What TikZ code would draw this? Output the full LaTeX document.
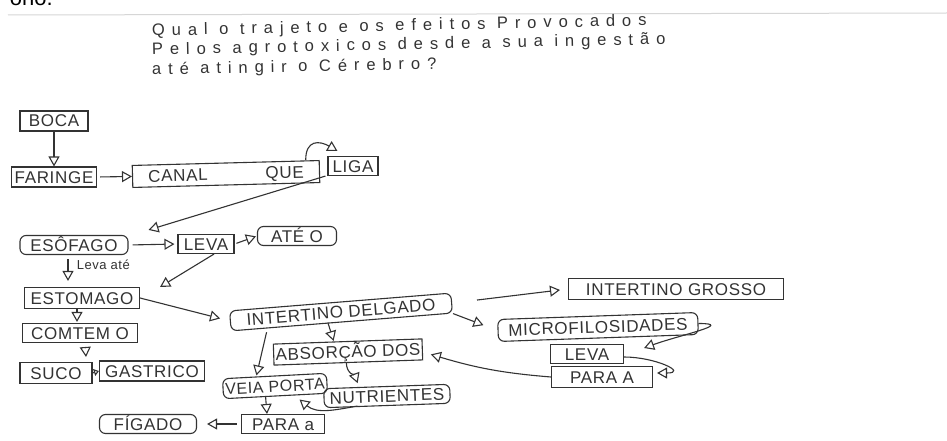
\documentclass[tikz,border=0pt]{standalone}
\usepackage{fontspec}
\setmainfont{Liberation Sans}
\newfontfamily\handfont[LetterSpace=4]{Liberation Sans}
\newfontfamily\notefont[LetterSpace=42]{Liberation Sans}
\usetikzlibrary{arrows.meta, positioning}
\definecolor{ink}{HTML}{333333}
\definecolor{scanline}{HTML}{D6D6D6}

\begin{document}
\begin{tikzpicture}[x=1pt, y=-1pt,
  >={Triangle[open, length=10pt, width=11pt]},
  hbox/.style={draw=ink, line width=1.1pt, text=ink,
    font=\handfont\fontsize{17}{17}\selectfont,
    minimum width=#1, minimum height=20pt, inner xsep=2pt, inner ysep=0pt,
    text height=12pt, text depth=0pt},
  rbox/.style={hbox=#1, rounded corners=6pt},
  arr/.style={->, ink, line width=1.1pt},
  qline/.style={font=\notefont\fontsize{16.5}{16.5}\selectfont, text=ink,
    anchor=base west, rotate=1.2, inner sep=0pt},
]

% Background
\fill[white] (0,0) rectangle (947,441);
\useasboundingbox (0,0) rectangle (947,441);
\draw[scanline, line width=1pt] (8,15) -- (947,13);
\node[font=\fontsize{22}{22}\selectfont, anchor=base east, inner sep=0pt] (ono) at (53,6) {ono.};

% Question
\node[qline] (q1) at (152,36) {Qual o trajeto e os efeitos Provocados};
\node[qline] (q2) at (152,55) {Pelos agrotoxicos desde a sua ingestão};
\node[qline] (q3) at (152,75) {até atingir o Cérebro?};

% === Left column ===
\node[hbox=68pt] (boca) at (54,121) {BOCA};
\node[hbox=85pt] (faringe) at (54,177) {FARINGE};
\node[hbox=187pt, minimum height=22pt, rotate=1.5] (canal) at (226,174) {CANAL\hspace{58pt}QUE};
\node[hbox=50pt, minimum height=19pt] (liga) at (353,166) {LIGA};
\node[rbox=108pt, minimum height=19pt] (esofago) at (74,245) {ESÔFAGO};
\node[hbox=56pt, minimum height=19pt] (leva) at (206,244) {LEVA};
\node[rbox=79pt, minimum height=19pt] (ate) at (297,236) {ATÉ O};
\node[hbox=115pt, minimum height=21pt] (estomago) at (82,298) {ESTOMAGO};
\node[hbox=115pt, minimum height=19pt] (comtem) at (80,333) {COMTEM O};
\node[hbox=72pt, minimum height=21pt] (suco) at (56,373) {SUCO};
\node[hbox=105pt, minimum height=20pt] (gastrico) at (152,371) {GASTRICO};

% === Intestines ===
\node[rbox=222pt, rotate=4.6] (delgado) at (341,312) {INTERTINO DELGADO};
\node[hbox=215pt, minimum height=21pt] (grosso) at (676,289) {INTERTINO GROSSO};
\node[rbox=200pt, minimum height=22pt, rotate=2] (micro) at (598,327) {MICROFILOSIDADES};
\node[hbox=73pt, minimum height=19pt] (levab) at (587,354) {LEVA};
\node[hbox=101pt, minimum height=21pt] (paraA) at (602,377) {PARA A};
\node[hbox=143pt, minimum height=21pt, rotate=2] (absorcao) at (348,352) {ABSORÇÃO DOS};
\node[rbox=126pt, minimum height=19pt, rotate=2] (nutrientes) at (387,396) {NUTRIENTES};
\node[rbox=104pt, minimum height=20pt, rotate=3, font=\handfont\fontsize{16}{16}\selectfont] (veia) at (275,386) {VEIA PORTA};
\node[hbox=83pt, minimum height=19pt] (paraO) at (283,424) {PARA a};
\node[rbox=97pt, minimum height=19pt] (figado) at (148,424) {FÍGADO};

% === Arrows ===
\draw[arr] (boca) -- (faringe);
\draw[arr, shorten <=3pt] (faringe.east) -- (canal.west);
\draw[arr] ([xshift=-14pt]canal.north east) to[out=90, in=150, looseness=1.6]
  ([xshift=10pt, yshift=5pt]liga.north west);
\draw[arr] ([xshift=-2pt]liga.south west) -- ([xshift=20pt, yshift=5pt]esofago.north east);
\draw[arr, shorten <=4pt, shorten >=3pt] (esofago.east) -- (leva.west);
\draw[arr, shorten <=2pt, shorten >=1pt] (leva.east) -- (ate.west);
\draw[arr] ([xshift=8pt]leva.south) -- ([xshift=20pt]estomago.north east);
\draw[arr, shorten <=4pt, shorten >=6pt] ([xshift=-6pt]esofago.south) --
  node[pos=0.3, right=5pt, font=\handfont\fontsize{13}{13}\selectfont, text=ink] (levaate) {Leva até}
  ([xshift=-14pt]estomago.north);
\draw[arr, shorten >=1pt] ([xshift=-5pt]estomago.south) -- ([xshift=-3pt]comtem.north);
\draw[arr, shorten <=5pt] ([xshift=5pt]comtem.south) -- ([xshift=30pt, yshift=5pt]suco.north);
\draw[-{Triangle[open, length=5pt, width=7pt]}, ink, line width=1.1pt] (suco.east) -- (gastrico.west);
\draw[arr, shorten >=10pt] (estomago.east) -- (delgado.west);
\draw[arr, shorten <=25pt, shorten >=8pt] (delgado.east) -- (grosso.west);
\draw[arr, shorten >=15pt] (delgado.south east) -- (micro.west);
\draw[arr] ([xshift=-14pt]delgado.south) -- ([xshift=-14pt]absorcao.north);
\draw[arr, shorten <=10pt] ([xshift=-73pt]delgado.south) -- ([xshift=-18pt]veia.north);
\draw[arr, shorten >=3pt] ([xshift=-2pt]absorcao.south) to[out=-90, in=110]
  ([xshift=-28pt]nutrientes.north);
\draw[arr] ([xshift=-30pt]nutrientes.south) to[out=190, in=-40]
  ([xshift=24pt, yshift=-3pt]veia.south);
\draw[arr] ([xshift=-10pt]veia.south) -- ([xshift=-16pt]paraO.north);
\draw[arr, shorten <=4pt, shorten >=10pt] (paraO.west) -- (figado.east);
\draw[arr] (micro.east) to[out=0, in=20, looseness=1.6] ([xshift=20pt, yshift=6pt]levab.east);
\draw[arr] ([yshift=-3pt]levab.east) to[out=0, in=0, looseness=2.2]
  ([xshift=4pt, yshift=4pt]paraA.east);
\draw[arr] (paraA.west) to[bend left=6] ([xshift=8pt, yshift=-5pt]absorcao.east);

\end{tikzpicture}
\end{document}
